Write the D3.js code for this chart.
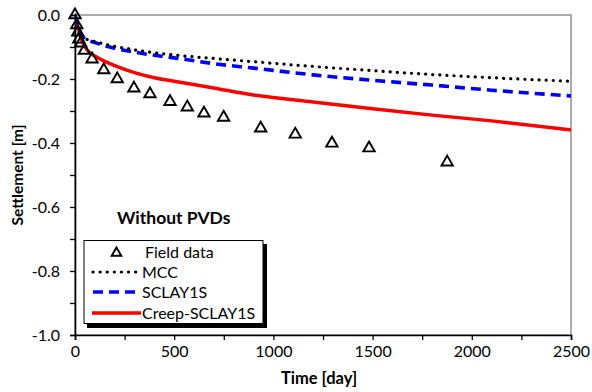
<!DOCTYPE html>
<html>
<head>
<meta charset="utf-8">
<script src="https://cdn.jsdelivr.net/npm/d3@7"></script>
<style>
  html, body { margin: 0; padding: 0; background: #fff; }
  svg { display: block; font-family: Lato, "Open Sans", sans-serif; }
</style>
</head>
<body>
<svg id="chart" width="592" height="392"></svg>
<script>
// ---- data ----
const fieldTime = [0, 9, 14, 19, 29, 47, 86, 145, 213, 297, 378, 479, 566, 650, 749, 936, 1110, 1295, 1482, 1876];
const fieldSettlement = [0, -0.031, -0.054, -0.076, -0.088, -0.111, -0.138, -0.172, -0.2, -0.229, -0.247, -0.271, -0.288, -0.307, -0.32, -0.354, -0.373, -0.401, -0.416, -0.46];

const modelTime = [0, 5, 10, 20, 30, 40, 50, 75, 100, 150, 200, 300, 400, 500, 700, 900, 1200, 1500, 1800, 2100, 2500];
const mccValues = [0, -0.01, -0.02, -0.04, -0.058, -0.07, -0.074, -0.079, -0.083, -0.091, -0.098, -0.109, -0.118, -0.125, -0.136, -0.146, -0.161, -0.174, -0.186, -0.196, -0.207];
const sclayValues = [0, -0.01, -0.02, -0.04, -0.058, -0.068, -0.074, -0.081, -0.086, -0.096, -0.104, -0.116, -0.126, -0.134, -0.152, -0.166, -0.187, -0.204, -0.219, -0.235, -0.253];
const creepValues = [0, -0.012, -0.025, -0.05, -0.072, -0.088, -0.1, -0.118, -0.128, -0.145, -0.158, -0.18, -0.196, -0.207, -0.228, -0.25, -0.272, -0.293, -0.313, -0.331, -0.359];

const xTickValues = [0, 500, 1000, 1500, 2000, 2500];
const yTickValues = [0, -0.2, -0.4, -0.6, -0.8, -1.0];
const legendLabels = ["Field data", "MCC", "SCLAY1S", "Creep-SCLAY1S"];

(function () {
// ---- layout ----
const svg = d3.select("#chart");
const pL = 75, pR = 571, pT = 15, pB = 335;
const x = d3.scaleLinear().domain([0, 2500]).range([pL, pR]);
const y = d3.scaleLinear().domain([-1, 0]).range([pB, pT]);

// frame (top/right grey)
svg.append("rect").attr("x", pL).attr("y", pT).attr("width", pR - pL).attr("height", pB - pT)
  .attr("fill", "none").attr("stroke", "#7f7f7f").attr("stroke-width", 1.3);

// axes
const xAxis = d3.axisBottom(x).tickValues(d3.range(0, 2501, 250)).tickSize(5)
  .tickFormat(d => xTickValues.includes(d) ? d : "");
const gx = svg.append("g").attr("transform", `translate(0,${pB})`).call(xAxis);
gx.select(".domain").attr("stroke", "#000").attr("stroke-width", 1.6);
gx.selectAll(".tick line").attr("stroke", "#000").attr("stroke-width", 1.3);
gx.selectAll("text").attr("font-size", 16).attr("fill", "#000").attr("dy", "0.85em").attr("font-family", "Lato, sans-serif");

const yAxis = d3.axisLeft(y).tickValues(d3.range(0, 11).map(i => -i / 10)).tickSize(5)
  .tickFormat(d => yTickValues.some(v => Math.abs(v - d) < 1e-9) ? d3.format(".1f")(d).replace("\u2212", "-") : "");
const gy = svg.append("g").attr("transform", `translate(${pL},0)`).call(yAxis);
gy.select(".domain").attr("stroke", "#000").attr("stroke-width", 1.6);
gy.selectAll(".tick line").attr("stroke", "#000").attr("stroke-width", 1.3);
gy.selectAll("text").attr("font-size", 16).attr("fill", "#000").attr("x", -15).attr("font-family", "Lato, sans-serif");

// titles
svg.append("text").attr("x", 319).attr("y", 384).attr("text-anchor", "middle")
  .attr("font-size", 16.5).attr("font-weight", "bold").text("Time [day]");
svg.append("text").attr("transform", `translate(23,175) rotate(-90)`).attr("text-anchor", "middle")
  .attr("font-size", 15.5).attr("font-weight", "bold").text("Settlement [m]");

// lines
const line = d3.line().x(d => x(d[0])).y(d => y(d[1])).curve(d3.curveMonotoneX);
const mk = vals => modelTime.map((t, i) => [t, vals[i]]);

svg.append("clipPath").attr("id", "clip").append("rect")
  .attr("x", pL).attr("y", pT - 2).attr("width", pR - pL).attr("height", pB - pT + 2);
const plot = svg.append("g").attr("clip-path", "url(#clip)");

plot.append("path").datum(mk(creepValues)).attr("d", line).attr("fill", "none")
  .attr("stroke", "#ff0000").attr("stroke-width", 3.4);
plot.append("path").datum(mk(sclayValues)).attr("d", line).attr("fill", "none")
  .attr("stroke", "#0000ff").attr("stroke-width", 3.6).attr("stroke-dasharray", "10,6");
plot.append("path").datum(mk(mccValues)).attr("d", line).attr("fill", "none")
  .attr("stroke", "#000").attr("stroke-width", 3.2).attr("stroke-linecap", "round").attr("stroke-dasharray", "0.1,7");

// field data triangles
const tri = d3.symbol().type(d3.symbolTriangle).size(56);
svg.append("g").selectAll("path").data(fieldTime.map((t, i) => [t, fieldSettlement[i]])).join("path")
  .attr("d", tri).attr("transform", d => `translate(${x(d[0])},${y(d[1])})`)
  .attr("fill", "none").attr("stroke", "#000").attr("stroke-width", 1.9);

// annotation
svg.append("text").attr("x", 117).attr("y", 224).attr("font-size", 17.5).attr("font-weight", "bold").text("Without PVDs");

// legend
const lg = svg.append("g");
lg.append("rect").attr("x", 87).attr("y", 244).attr("width", 180).attr("height", 84).attr("fill", "#000");
lg.append("rect").attr("x", 84).attr("y", 240.5).attr("width", 179).attr("height", 83).attr("fill", "#fff")
  .attr("stroke", "#000").attr("stroke-width", 1);
const rowY = [252, 272, 292, 313];
lg.append("path").attr("d", d3.symbol().type(d3.symbolTriangle).size(40)).attr("transform", `translate(116.5,${rowY[0] + 1})`)
  .attr("fill", "none").attr("stroke", "#000").attr("stroke-width", 1.9);
lg.append("line").attr("x1", 93).attr("x2", 140).attr("y1", rowY[1]).attr("y2", rowY[1])
  .attr("stroke", "#000").attr("stroke-width", 3.2).attr("stroke-linecap", "round").attr("stroke-dasharray", "0.1,7");
lg.append("line").attr("x1", 93).attr("x2", 140).attr("y1", rowY[2]).attr("y2", rowY[2])
  .attr("stroke", "#0000ff").attr("stroke-width", 3.6).attr("stroke-dasharray", "10,6");
lg.append("line").attr("x1", 92).attr("x2", 141).attr("y1", rowY[3]).attr("y2", rowY[3])
  .attr("stroke", "#ff0000").attr("stroke-width", 3.4);
legendLabels.forEach((lab, i) => {
  lg.append("text").attr("x", i === 0 ? 145 : 142).attr("y", rowY[i]).attr("dy", "0.35em")
    .attr("font-size", 16).text(lab);
});
})();
</script>
</body>
</html>
